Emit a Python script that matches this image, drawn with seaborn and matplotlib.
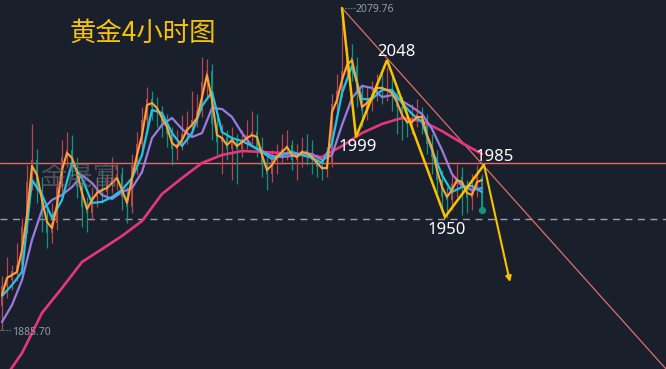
import numpy as np
import pandas as pd
import matplotlib
matplotlib.use("Agg")
import matplotlib.pyplot as plt
import seaborn as sns

# ---------------- data ----------------
opens = [1900,1912,1916,1921,1925,1948,1975,1988,1970,1955,
         1944,1950,1972,1990,1994,1984,1972,1960,1956,1966,
         1970,1969,1973,1978,1980,1966,1960,1985,1998,2012,
         2025,2020,2017,2010,2004,1995,1998,2004,2008,2012,
         2018,2035,2042,2010,1999,2002,1995,2001,1995,2000,
         2003,2005,1996,1985,1980,1988,1992,1995,1997,1988,
         1991,1994,1991,1988,1984,1982,1986,2022,2030,2042,
         2050,2045,2028,2018,2025,2028,2033,2030,2031,2027,
         2020,2012,2010,2013,2016,2012,1998,1990,1976,1966,
         1964,1974,1978,1972,1965,1970,1978]
closes = [1912,1916,1921,1925,1948,1975,1988,1970,1955,1944,
          1950,1972,1990,1994,1984,1972,1960,1956,1966,1970,
          1969,1973,1978,1980,1966,1960,1985,1998,2012,2025,
          2020,2017,2010,2004,1995,1998,2004,2008,2012,2018,
          2035,2042,2010,1999,2002,1995,2001,1995,2000,2003,
          2005,1996,1985,1980,1988,1992,1995,1997,1988,1991,
          1994,1991,1988,1984,1982,1986,2022,2030,2042,2050,
          2045,2028,2018,2025,2028,2033,2030,2031,2027,2020,
          2012,2010,2013,2016,2012,1998,1990,1976,1966,1964,
          1974,1978,1972,1965,1970,1978,1958]
highs = [1918,1930,1925,1938,1953,1985,2010,1995,1978,1960,
         1962,1978,2000,2005,2003,1990,1976,1966,1972,1978,
         1982,1980,1990,1986,1984,1972,1992,2005,2020,2032,
         2030,2026,2021,2016,2008,2006,2015,2018,2030,2028,
         2050,2049,2046,2014,2010,2006,2008,2004,2006,2012,
         2018,2016,2002,1990,1994,1998,2004,2006,2000,1998,
         2002,2004,2000,1992,1989,1996,2028,2040,2079.76,2056,
         2058,2050,2034,2032,2036,2040,2040,2044,2038,2032,
         2026,2018,2022,2025,2020,2016,2004,1994,1982,1972,
         1980,1986,1984,1976,1980,1985,1980]
lows = [1885.70,1905,1910,1915,1920,1944,1970,1962,1945,1935,
        1938,1946,1966,1984,1978,1965,1948,1945,1952,1960,
        1962,1964,1968,1970,1958,1950,1956,1980,1994,2006,
        2012,2008,2002,1996,1985,1988,1994,1998,2002,2008,
        2014,2025,2000,1990,1980,1988,1976,1974,1990,1995,
        1998,1990,1978,1970,1975,1980,1986,1988,1982,1976,
        1984,1985,1980,1978,1976,1978,1984,2015,2026,2038,
        2036,2020,2008,2012,2018,2024,2022,2024,2018,2004,
        2000,2002,2004,2008,2004,1992,1980,1968,1958,1953,
        1958,1966,1955,1956,1958,1966,1958]

# moving averages (orange every candle, cyan/purple every 2nd candle, pink every 4th)
ma_orange = [1906.8,1917.1,1918.9,1920.7,1933.9,1955.0,1984.6,1979.1,1964.1,1950.8,
             1947.2,1961.0,1982.1,1992.4,1989.4,1980.9,1968.3,1958.6,1964.1,1968.3,
             1970.1,1971.3,1974.3,1977.3,1970.1,1962.3,1977.3,1991.2,2003.2,2021.3,
             2022.5,2019.5,2013.5,2008.1,1998.4,1996.0,2000.2,2006.2,2009.3,2013.5,
             2026.1,2039.4,2024.3,2003.2,2001.4,1997.2,2000.2,1996.6,1999.0,2001.4,
             2003.2,2002.0,1991.2,1982.1,1985.2,1990.0,1993.0,1996.0,1991.2,1990.0,
             1993.0,1992.4,1990.0,1986.4,1983.3,1983.3,2017.1,2024.3,2036.4,2045.4,
             2048.4,2034.6,2020.1,2022.5,2026.1,2031.6,2031.6,2030.4,2028.5,2023.1,
             2015.3,2011.1,2011.1,2014.1,2014.1,2003.2,1995.4,1982.1,1971.9,1965.9,
             1970.1,1976.1,1974.9,1968.3,1967.1,1974.9,1976.1]
ma_cyan = [1906.2,1912.8,1920.7,1976.1,1967.1,1953.2,1964.1,1986.4,1977.3,1962.3,
           1962.9,1965.9,1970.1,1977.3,1991.2,2018.3,2016.5,2004.4,1996.6,2004.4,
           2020.7,2029.2,2005.0,2001.4,1999.6,1996.6,1993.0,1988.8,1991.2,1993.0,
           1991.2,1989.4,1986.4,1998.4,2028.5,2044.8,2024.9,2024.9,2030.4,2030.4,
           2022.5,2015.9,2011.1,1994.2,1979.1,1968.9,1971.9,1972.5,1968.9]
ma_purple = [1890.5,1900.8,1915.8,1940.0,1958.0,1964.1,1967.1,1971.9,1979.1,1974.3,
             1967.1,1964.7,1968.9,1971.3,1980.9,2001.4,2009.3,2013.5,2006.9,2002.0,
             2004.4,2019.5,2018.9,2014.1,2004.4,1996.6,1993.6,1990.6,1990.0,1990.6,
             1992.4,1991.8,1988.2,1991.2,2009.3,2025.5,2032.8,2031.6,2026.1,2027.3,
             2023.7,2020.1,2015.9,2006.9,1994.2,1979.7,1972.5,1970.1,1971.3]
ma_pink = [1854.4,1871.8,1896.0,1911.0,1926.7,1934.5,1942.4,1951.4,1967.7,1977.3,
           1986.4,1991.2,1993.6,1993.0,1992.4,1991.2,1990.0,1996.6,2004.4,2009.9,
           2013.5,2011.7,2005.6,1998.4,1991.8]

# wave analysis (candle index, price)
wave_idx = [68, 70.8, 77, 88.6, 96.4]
wave_price = [2079.76, 2002.0, 2048.4, 1953.8, 1985.2]
target_idx = 101.6
target_price = 1914.6
wave_labels = ["1999", "2048", "1950", "1985"]
resist_level = 1986.4
support_level = 1952.6
trend_end = (132.8, 1862.2)
title = "黄金4小时图"
watermark = "金晟富"

# ---------------- style ----------------
sns.set_theme(style="dark")
plt.rcParams['font.family'] = ['Noto Sans CJK SC', 'DejaVu Sans']

BG = '#1a1f2c'
RED = '#b8464c'
TEAL = '#16917c'
C_OR = '#ffa336'
C_CY = '#1fc6e4'
C_PU = '#9b7be0'
C_PK = '#e8367c'
YEL = '#f7c300'

fig = plt.figure(figsize=(6.66, 3.69), dpi=100, facecolor=BG)
ax = fig.add_axes([0, 0, 1, 1], facecolor=BG)
ax.set_xlim(-0.4, 132.8)
ax.set_ylim(1862.2, 2084.6)
ax.set_axis_off()

o = np.array(opens, float); c = np.array(closes, float)
h = np.array(highs, float); l = np.array(lows, float)
idx = np.arange(len(c))
cols = np.where(c >= o, RED, TEAL)

# reference lines
ax.axhline(resist_level, color='#e46a66', lw=1.0, zorder=1)
ax.axhline(support_level, color='#9ca1aa', lw=1.0, dashes=(5, 4), zorder=1)
ax.plot([wave_idx[0], trend_end[0]], [wave_price[0], trend_end[1]],
        color='#e0706c', lw=0.9, zorder=1)

# candles
ax.vlines(idx, l, h, colors=cols, lw=0.9, zorder=2)
ax.bar(idx, np.maximum(np.abs(c - o), 0.6), bottom=np.minimum(o, c),
       width=0.45, color=cols, linewidth=0, zorder=2)
ax.scatter([idx[-1]], [c[-1]], s=18, color=TEAL, zorder=3)

# moving averages
df_or = pd.DataFrame({'i': idx, 'v': ma_orange})
df_cy = pd.DataFrame({'i': np.arange(0, len(ma_cyan)) * 2, 'v': ma_cyan})
df_pu = pd.DataFrame({'i': np.arange(0, len(ma_purple)) * 2, 'v': ma_purple})
df_pk = pd.DataFrame({'i': np.arange(0, len(ma_pink)) * 4, 'v': ma_pink})
sns.lineplot(data=df_pk, x='i', y='v', color=C_PK, lw=1.9, ax=ax, zorder=4)
sns.lineplot(data=df_pu, x='i', y='v', color=C_PU, lw=1.6, ax=ax, zorder=4)
sns.lineplot(data=df_cy, x='i', y='v', color=C_CY, lw=1.6, ax=ax, zorder=5)
sns.lineplot(data=df_or, x='i', y='v', color=C_OR, lw=1.5, ax=ax, zorder=6)
ax.set_xlim(-0.4, 132.8)
ax.set_ylim(1862.2, 2084.6)
ax.set_axis_off()

# wave zigzag
ax.plot(wave_idx, wave_price, color=YEL, lw=1.8, zorder=7, solid_joinstyle='miter')
ax.annotate('', xy=(target_idx, target_price), xytext=(wave_idx[-1], wave_price[-1]),
            arrowprops=dict(arrowstyle='-|>', color=YEL, lw=1.5, mutation_scale=8,
                            shrinkA=0, shrinkB=0), zorder=7)

# labels
lab_font = dict(color='white', fontsize=12, family=['Noto Sans', 'DejaVu Sans'],
                ha='center', va='center', zorder=8)
ax.text(71.2, 1996.0, wave_labels[0], **lab_font)
ax.text(78.8, 2053.3, wave_labels[1], **lab_font)
ax.text(89.0, 1946.0, wave_labels[2], **lab_font)
ax.text(98.6, 1990.0, wave_labels[3], **lab_font)

small = dict(color='#959ba4', fontsize=7.5, family=['Noto Sans', 'DejaVu Sans'],
             ha='left', va='center', zorder=8)
ax.plot([wave_idx[0], 70.6], [highs[68], highs[68]], color='#959ba4', lw=0.8, ls=':', zorder=8)
ax.text(70.8, 2078.6, f"{highs[68]:.2f}", **small)
ax.plot([-0.4, 1.8], [lows[0], lows[0]], color='#959ba4', lw=0.8, ls=':', zorder=8)
ax.text(2.0, 1883.9, f"{lows[0]:.2f}", **small)

fig.text(70 / 666, 1 - 33 / 369, title, color='#f5c211', fontsize=19,
         family=['Noto Sans CJK SC', 'DejaVu Sans'], ha='left', va='center')
fig.text(40 / 666, 1 - 177 / 369, watermark, color='#70747c', alpha=0.55, fontsize=19,
         family=['Noto Sans CJK SC', 'DejaVu Sans'], ha='left', va='center', zorder=9)

fig.savefig('out.png', dpi=100, facecolor=BG)
